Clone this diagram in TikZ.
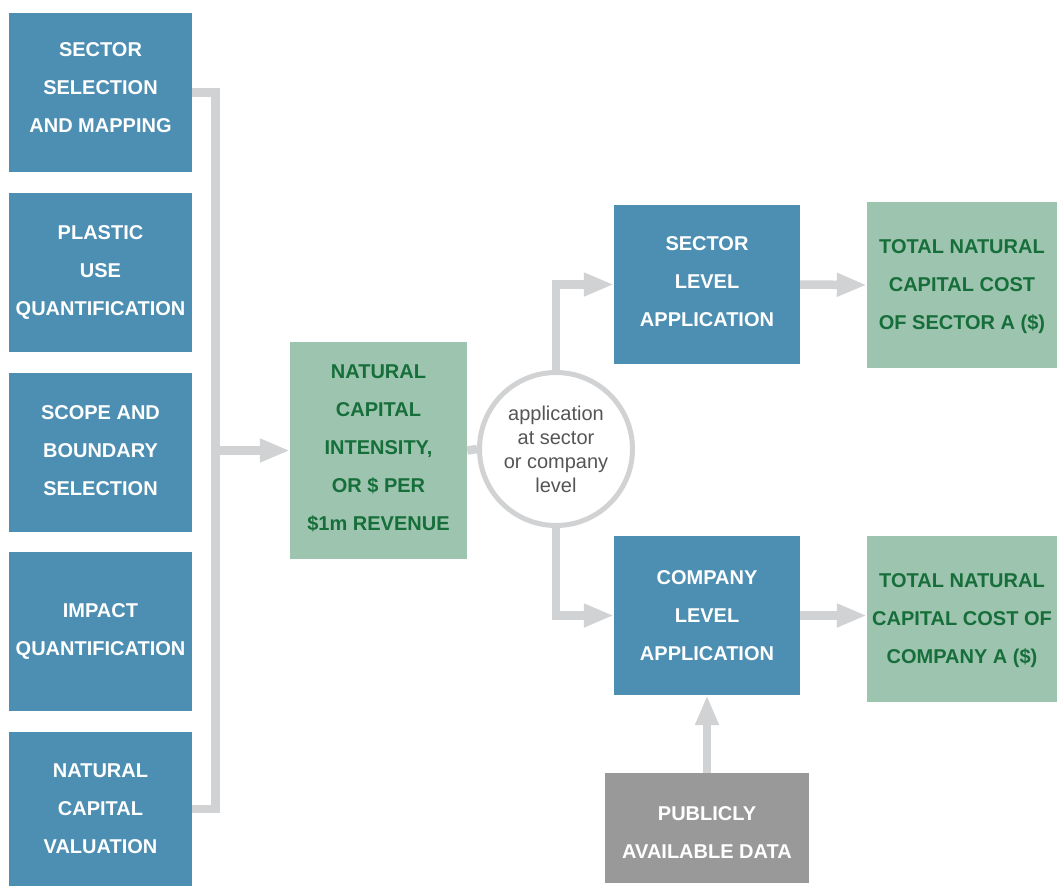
\documentclass[tikz,border=0pt]{standalone}
\usepackage{fontspec}
\setmainfont{Liberation Sans}
\usetikzlibrary{arrows.meta,positioning}
\definecolor{stepblue}{HTML}{4C8FB3}
\definecolor{resgreen}{HTML}{9DC4AE}
\definecolor{resdark}{HTML}{166E3A}
\definecolor{datagray}{HTML}{999999}
\definecolor{linkgray}{HTML}{D1D2D4}
\definecolor{notegray}{HTML}{555555}
\begin{document}
\begin{tikzpicture}[x=1pt,y=-1pt,
        box/.style={inner sep=0pt,align=center,font=\bfseries\fontsize{20}{38}\selectfont},
        stepbox/.style={box,fill=stepblue,text=white,minimum width=183,minimum height=159},
        resbox/.style={box,fill=resgreen,text=resdark},
        link/.style={linkgray,line width=8.5,line join=miter},
        arr/.style={link,-{Triangle[length=30pt,width=22pt]}}]
    \useasboundingbox (0,0) rectangle (1057,886);
    % input steps
    \node[stepbox,text depth=9pt] (sel) at (100.5,92.5)  {SECTOR\\SELECTION\\AND MAPPING};
    \node[stepbox] (use) at (100.5,272.5) {PLASTIC\\USE\\QUANTIFICATION};
    \node[stepbox,text depth=4pt] (scp) at (100.5,452.5) {SCOPE AND\\BOUNDARY\\SELECTION};
    \node[stepbox] (imp) at (100.5,631.5) {IMPACT\\QUANTIFICATION};
    \node[stepbox,minimum height=154] (val) at (100.5,809) {NATURAL\\CAPITAL\\VALUATION};
    % intensity and application
    \node[resbox,minimum width=177,minimum height=217,text depth=5pt] (ints) at (378.5,450.5) {NATURAL\\CAPITAL\\INTENSITY,\\OR \$ PER\\\$1m REVENUE};
    \node[circle,draw=linkgray,line width=5,minimum size=153,inner sep=0pt,align=center,
          text=notegray,font=\fontsize{20}{24}\selectfont] (circ) at (556,449) {application\\at sector\\or company\\level};
    \node[stepbox,minimum width=186,text depth=5pt] (seclev) at (707,284.5) {SECTOR\\LEVEL\\APPLICATION};
    \node[stepbox,minimum width=186] (comlev) at (707,615.5) {COMPANY\\LEVEL\\APPLICATION};
    \node[resbox,minimum width=190,minimum height=166] (totsec) at (962,285) {\rule{0pt}{18pt}TOTAL NATURAL\\CAPITAL COST\\OF SECTOR A (\$)};
    \node[resbox,minimum width=190,minimum height=166] (totcom) at (962,619) {\rule{0pt}{18pt}TOTAL NATURAL\\CAPITAL COST OF\\COMPANY A (\$)};
    \node[box,fill=datagray,text=white,minimum width=204,minimum height=110] (pub) at (707,828) {\rule{0pt}{22pt}PUBLICLY\\AVAILABLE DATA};
    % connectors
    \coordinate (bus) at (215.5,450);
    \draw[link] (sel.east) -| (bus) |- (val.east);
    \draw[arr] (bus |- ints.west) -- (ints.west);
    \draw[link] (ints.east) -- (circ.west);
    \draw[arr] (circ.north) |- (seclev.west);
    \draw[arr] (circ.south) |- (comlev.west);
    \draw[arr] (seclev.east) -- (totsec.west);
    \draw[arr] (comlev.east) -- (comlev.east -| totcom.west);
    \draw[arr] (pub.north) -- (comlev.south);
\end{tikzpicture}
\end{document}
